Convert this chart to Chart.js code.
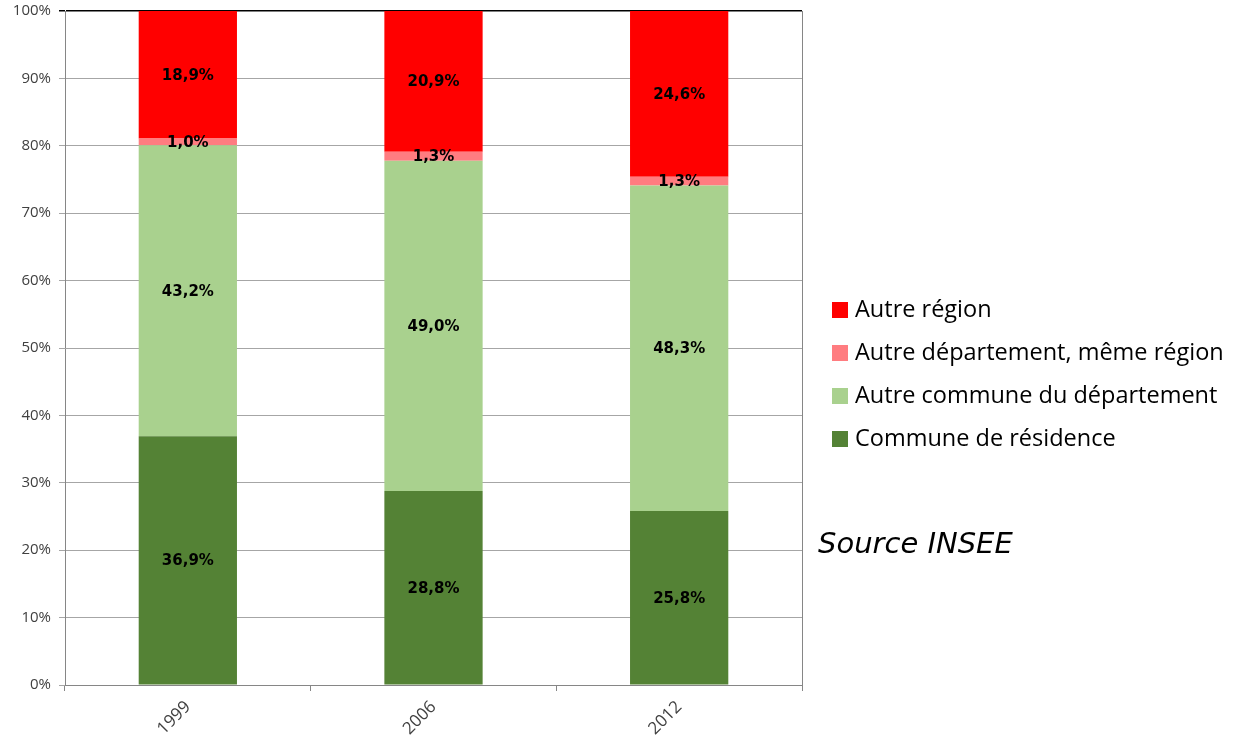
<!DOCTYPE html>
<html>
<head>
<meta charset="utf-8">
<script src="https://cdn.jsdelivr.net/npm/chart.js@4/dist/chart.umd.min.js"></script>
<style>
  html, body { margin: 0; padding: 0; background: #fff; }
  #wrap { position: relative; width: 1236px; height: 744px; }
  #legend { position: absolute; left: 832px; top: 294px; font-family: "Open Sans", sans-serif; font-size: 23.5px; color: #000; }
  #legend div { height: 43px; line-height: 28px; white-space: nowrap; }
  #legend span.box { display: inline-block; width: 16px; height: 16px; margin-right: 7px; vertical-align: -1px; }
  #source { position: absolute; left: 818px; top: 526px; font-family: "DejaVu Sans", sans-serif; font-style: italic; font-size: 29px; color: #000; }
</style>
</head>
<body>
<div id="wrap">
  <canvas id="chart" width="1236" height="744"></canvas>
  <div id="legend"></div>
  <div id="source">Source INSEE</div>
</div>
<script>
// Data (bottom to top of each stack)
const years = ['1999', '2006', '2012']
const seriesNames = ['Commune de résidence', 'Autre commune du département', 'Autre département, même région', 'Autre région']
const seriesColors = ['#548235', '#a9d18e', '#ff7c80', '#ff0000']
const communeResidence = [36.9, 28.8, 25.8]
const autreCommune = [43.2, 49.0, 48.3]
const autreDepartement = [1.0, 1.3, 1.3]
const autreRegion = [18.9, 20.9, 24.6]
const yTicks = [0, 10, 20, 30, 40, 50, 60, 70, 80, 90, 100]

const seriesValues = [communeResidence, autreCommune, autreDepartement, autreRegion]

const datasets = seriesValues.map((values, i) => ({
  label: seriesNames[i],
  data: values,
  backgroundColor: seriesColors[i],
  borderWidth: 0,
  barPercentage: 0.4,
  categoryPercentage: 1.0
}))

// French formatting: 18,9%
const fmt = v => `${v.toFixed(1).replace('.', ',')}%`

const segmentLabels = {
  id: 'segmentLabels',
  afterDatasetsDraw(chart) {
    const ctx = chart.ctx
    ctx.save()
    ctx.font = 'bold 15px "DejaVu Sans"'
    ctx.fillStyle = '#000'
    ctx.textAlign = 'center'
    ctx.textBaseline = 'middle'
    chart.data.datasets.forEach((ds, di) => {
      chart.getDatasetMeta(di).data.forEach((bar, i) => {
        const y = (bar.y + bar.base) / 2
        ctx.fillText(fmt(ds.data[i]), bar.x, y + 1)
      })
    })
    ctx.restore()
  }
}

const plotBorder = {
  id: 'plotBorder',
  afterDraw(chart) {
    const { ctx, chartArea } = chart
    ctx.save()
    ctx.strokeStyle = '#868686'
    ctx.lineWidth = 1
    ctx.beginPath()
    ctx.moveTo(chartArea.right + 0.5, chartArea.top)
    ctx.lineTo(chartArea.right + 0.5, chartArea.bottom + 6)
    ctx.stroke()
    ctx.restore()
  }
}

new Chart(document.getElementById('chart'), {
  type: 'bar',
  data: { labels: years, datasets: datasets },
  options: {
    responsive: false,
    animation: false,
    layout: { padding: { top: 11, right: 434, left: 0, bottom: 0 } },
    scales: {
      x: {
        stacked: true,
        grid: { offset: true, drawOnChartArea: false, tickLength: 6, color: '#868686' },
        border: { color: '#868686' },
        ticks: {
          color: '#404040',
          font: { family: 'Open Sans', size: 17 },
          maxRotation: 45,
          minRotation: 45,
          padding: 6
        },
        afterFit: scale => { scale.height = 59; scale.paddingLeft = 0; scale.paddingRight = 0 }
      },
      y: {
        stacked: true,
        min: 0,
        max: 100,
        afterBuildTicks: scale => { scale.ticks = yTicks.map(v => ({ value: v })) },
        grid: {
          tickLength: 6,
          color: ctx => ctx.tick && ctx.tick.value === 100 ? '#000' : '#a6a6a6',
          lineWidth: ctx => ctx.tick && ctx.tick.value === 100 ? 1.5 : 1
        },
        border: { color: '#868686' },
        ticks: {
          color: '#404040',
          font: { family: 'Open Sans', size: 15 },
          padding: 8,
          callback: v => `${v}%`
        },
        afterFit: scale => { scale.width = 65; scale.paddingTop = 0; scale.paddingBottom = 0 }
      }
    },
    plugins: {
      legend: { display: false },
      tooltip: { enabled: false }
    }
  },
  plugins: [segmentLabels, plotBorder]
})

// HTML legend, top entry is the top of the stack
const legendEl = document.getElementById('legend')
for (let i = seriesNames.length - 1; i >= 0; i--) {
  const row = document.createElement('div')
  const box = document.createElement('span')
  box.className = 'box'
  box.style.background = seriesColors[i]
  row.appendChild(box)
  row.appendChild(document.createTextNode(seriesNames[i]))
  legendEl.appendChild(row)
}
</script>
</body>
</html>
